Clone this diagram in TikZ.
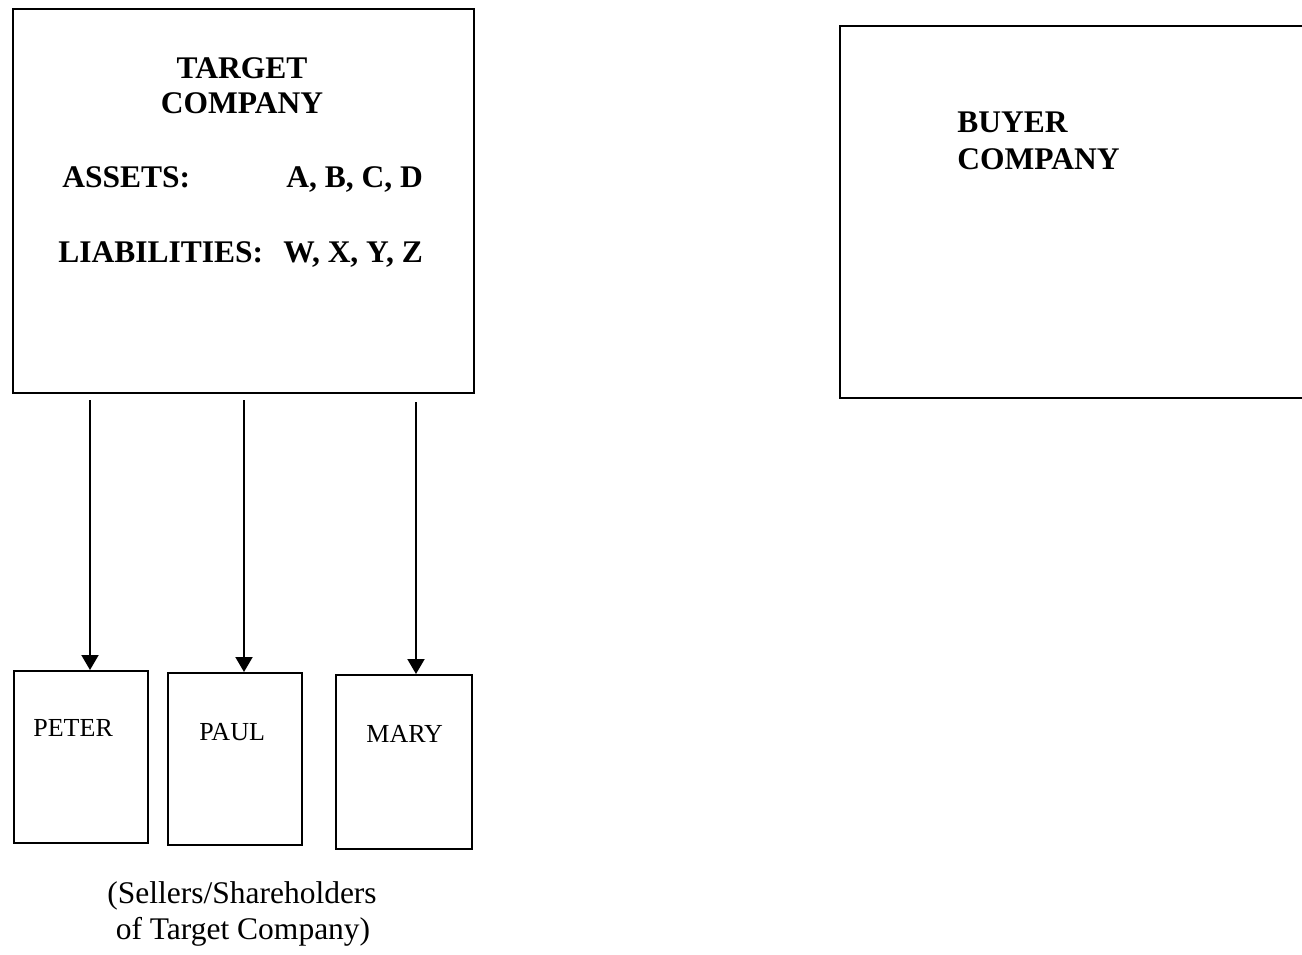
\documentclass[tikz,border=0pt]{standalone}
\usepackage{fontspec}
\setmainfont{Liberation Serif}
\usetikzlibrary{arrows.meta}
\begin{document}
\begin{tikzpicture}[x=0.5pt, y=-0.5pt, line join=miter, >={Triangle[width=8.5pt,length=7.5pt]},
	box/.style={draw, line width=1pt, inner sep=0pt, anchor=north west},
	big/.style={font=\fontsize{15.75}{17.75}\selectfont\bfseries, inner sep=0pt},
	who/.style={font=\fontsize{13}{15}\selectfont, inner sep=0pt, anchor=base west},
	note/.style={font=\fontsize{15.75}{17.75}\selectfont, inner sep=0pt, anchor=base}]
			\useasboundingbox (0,0) rectangle (1302,954);
			% companies
			\node[box, minimum width=230.5pt, minimum height=192pt] (target) at (12,8) {};
			\begin{scope}
				\clip (0,0) rectangle (1302,954);
				\node[box, minimum width=245pt, minimum height=186pt] (buyer) at (839,25) {};
			\end{scope}
			\node[big, anchor=base] (ttl1) at (242,78) {TARGET};
			\node[big, anchor=base] (ttl2) at (242,113) {COMPANY};
			\node[big, anchor=base west] (assets) at (62,187) {ASSETS:};
			\node[big, anchor=base west] (assetv) at (286,187) {A, B, C, D};
			\node[big, anchor=base west] (liab) at (58,262) {LIABILITIES:};
			\node[big, anchor=base west] (liabv) at (283,262) {W, X, Y, Z};
			\node[big, anchor=base west] (byr1) at (957,132) {BUYER};
			\node[big, anchor=base west] (byr2) at (957,169) {COMPANY};
			% shareholders
			\node[box, minimum width=67pt, minimum height=86pt] (peter) at (13,670) {};
			\node[box, minimum width=67pt, minimum height=86pt] (paul) at (167,672) {};
			\node[box, minimum width=68pt, minimum height=87pt] (mary) at (335,674) {};
			\node[who] (pname) at (33,736) {PETER};
			\node[who] (aname) at (199,740) {PAUL};
			\node[who] (mname) at (366,742) {MARY};
			\node[note] (cap1) at (242,903) {(Sellers/Shareholders};
			\node[note] (cap2) at (243,939) {of Target Company)};
			% arrows
			\coordinate (s1) at (90,400);
			\coordinate (s2) at (244,400);
			\coordinate (s3) at (416,402);
			\draw[->, line width=1pt] (s1) -- (s1 |- peter.north);
			\draw[->, line width=1pt] (s2) -- (s2 |- paul.north);
			\draw[->, line width=1pt] (s3) -- (s3 |- mary.north);
		\end{tikzpicture}
\end{document}
